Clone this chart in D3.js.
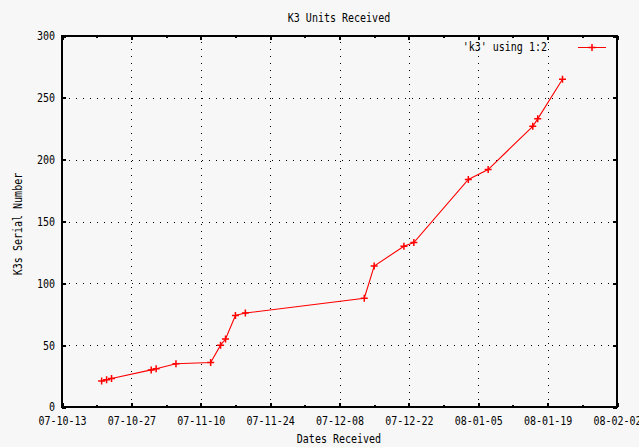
<!DOCTYPE html>
<html><head><meta charset="utf-8">
<script src="https://cdn.jsdelivr.net/npm/d3@7"></script>
<style>
html,body{margin:0;padding:0;background:#f7f7f7;}
svg{display:block;background:#f7f7f7;}
text{font-family:"DejaVu Sans Mono",monospace;font-size:13px;fill:#000;transform-box:fill-box;}
.c{transform-origin:center;transform:scaleX(0.77);}
.r{transform-origin:right center;transform:scaleX(0.77);}
</style></head><body>
<svg id="chart" width="639" height="447"></svg>
<script>
// ---- data ----
const receivedDates = ["07-10-21","07-10-22","07-10-23","07-10-31","07-11-01","07-11-05","07-11-12","07-11-14","07-11-15","07-11-17","07-11-19","07-12-13","07-12-15","07-12-21","07-12-23","08-01-03","08-01-07","08-01-16","08-01-17","08-01-22"];
const serialNumbers = [21,22,23,30,31,35,36,50,55,74,76,88,114,130,133,184,192,227,233,265];
const xTickLabels = ["07-10-13","07-10-27","07-11-10","07-11-24","07-12-08","07-12-22","08-01-05","08-01-19","08-02-02"];
const yTickValues = [0,50,100,150,200,250,300];
const titleText = "K3 Units Received";
const xLabelText = "Dates Received";
const yLabelText = "K3s Serial Number";
const legendText = "'k3' using 1:2";

// ---- layout ----
const parse = d3.utcParse("%y-%m-%d");
const fmt = d3.utcFormat("%y-%m-%d");
const L = 62, R = 617, T = 36, B = 407;
const svg = d3.select("#chart");

const xTicks = xTickLabels.map(parse);
const x = d3.scaleUtc().domain([xTicks[0], xTicks[xTicks.length-1]]).range([L, R]);
const y = d3.scaleLinear().domain([0, 300]).range([B, T]);
const minorTicks = xTicks.slice(0, -1).map(d => d3.utcDay.offset(d, 7));

// grid
const gx = svg.append("g").attr("transform", `translate(0,${B})`)
  .call(d3.axisBottom(x).tickValues(xTicks.slice(1, -1)).tickSize(-(B - T)).tickFormat(""));
const gy = svg.append("g").attr("transform", `translate(${L},0)`)
  .call(d3.axisLeft(y).tickValues(yTickValues.slice(1, -1)).tickSize(-(R - L)).tickFormat(""));
[gx, gy].forEach(g => {
  g.select(".domain").remove();
  g.selectAll("line").attr("stroke", "#000").attr("stroke-width", 1)
    .attr("stroke-dasharray", "1,6").attr("shape-rendering", "crispEdges");
});

// tick axes (inward)
function styleTicks(g, hideText) {
  g.select(".domain").remove();
  g.selectAll("line").attr("stroke", "#000").attr("stroke-width", 2).attr("shape-rendering", "crispEdges");
  if (hideText) g.selectAll("text").remove();
}
const bottomAx = svg.append("g").attr("transform", `translate(0,${B})`)
  .call(d3.axisBottom(x).tickValues(xTicks).tickSize(-4).tickPadding(9).tickFormat(fmt));
styleTicks(bottomAx, false);
bottomAx.selectAll("text").attr("class", "c");
svg.append("g").attr("transform", `translate(0,${B})`)
  .call(d3.axisBottom(x).tickValues(minorTicks).tickSize(-2).tickFormat("")).call(g => styleTicks(g, true));
svg.append("g").attr("transform", `translate(0,${T})`)
  .call(d3.axisTop(x).tickValues(xTicks).tickSize(-4).tickFormat("")).call(g => styleTicks(g, true));
svg.append("g").attr("transform", `translate(0,${T})`)
  .call(d3.axisTop(x).tickValues(minorTicks).tickSize(-2).tickFormat("")).call(g => styleTicks(g, true));
const leftAx = svg.append("g").attr("transform", `translate(${L},0)`)
  .call(d3.axisLeft(y).tickValues(yTickValues).tickSize(-4).tickPadding(7));
styleTicks(leftAx, false);
leftAx.selectAll("text").attr("class", "r").attr("dy", "0.3em");
svg.append("g").attr("transform", `translate(${R},0)`)
  .call(d3.axisRight(y).tickValues(yTickValues).tickSize(-4).tickFormat("")).call(g => styleTicks(g, true));
svg.selectAll(".tick text").attr("fill", "#000").attr("font-size", null).attr("font-family", null);
svg.selectAll("g").attr("font-size", null).attr("font-family", null);

// border
svg.append("rect").attr("x", L).attr("y", T).attr("width", R - L).attr("height", B - T)
  .attr("fill", "none").attr("stroke", "#000").attr("stroke-width", 2).attr("shape-rendering", "crispEdges");

// data line
const pts = receivedDates.map((d, i) => [parse(d), serialNumbers[i]]);
svg.append("path").datum(pts)
  .attr("d", d3.line().x(d => x(d[0])).y(d => y(d[1])))
  .attr("fill", "none").attr("stroke", "#ff0000").attr("stroke-width", 1.1);
const plus = "M-3.5,0H3.5M0,-3.5V3.5";
svg.append("g").selectAll("path").data(pts).join("path")
  .attr("transform", d => `translate(${x(d[0])},${y(d[1])})`)
  .attr("d", plus).attr("fill", "none").attr("stroke", "#ff0000").attr("stroke-width", 1.5);

// legend
svg.append("text").attr("class", "r").attr("x", 547).attr("y", 51.5).attr("text-anchor", "end").text(legendText);
svg.append("line").attr("x1", 578).attr("x2", 606).attr("y1", 47.5).attr("y2", 47.5)
  .attr("stroke", "#ff0000").attr("stroke-width", 1);
svg.append("path").attr("transform", "translate(592,47.5)").attr("d", plus)
  .attr("fill", "none").attr("stroke", "#ff0000").attr("stroke-width", 1.5);

// titles
svg.append("text").attr("class", "c").attr("x", 339).attr("y", 22).attr("text-anchor", "middle").text(titleText);
svg.append("text").attr("class", "c").attr("x", 339).attr("y", 443.5).attr("text-anchor", "middle").text(xLabelText);
svg.append("g").attr("transform", "translate(21.5,224) rotate(-90)")
  .append("text").attr("class", "c").attr("x", 0).attr("y", 0).attr("text-anchor", "middle").text(yLabelText);
</script>
</body></html>
